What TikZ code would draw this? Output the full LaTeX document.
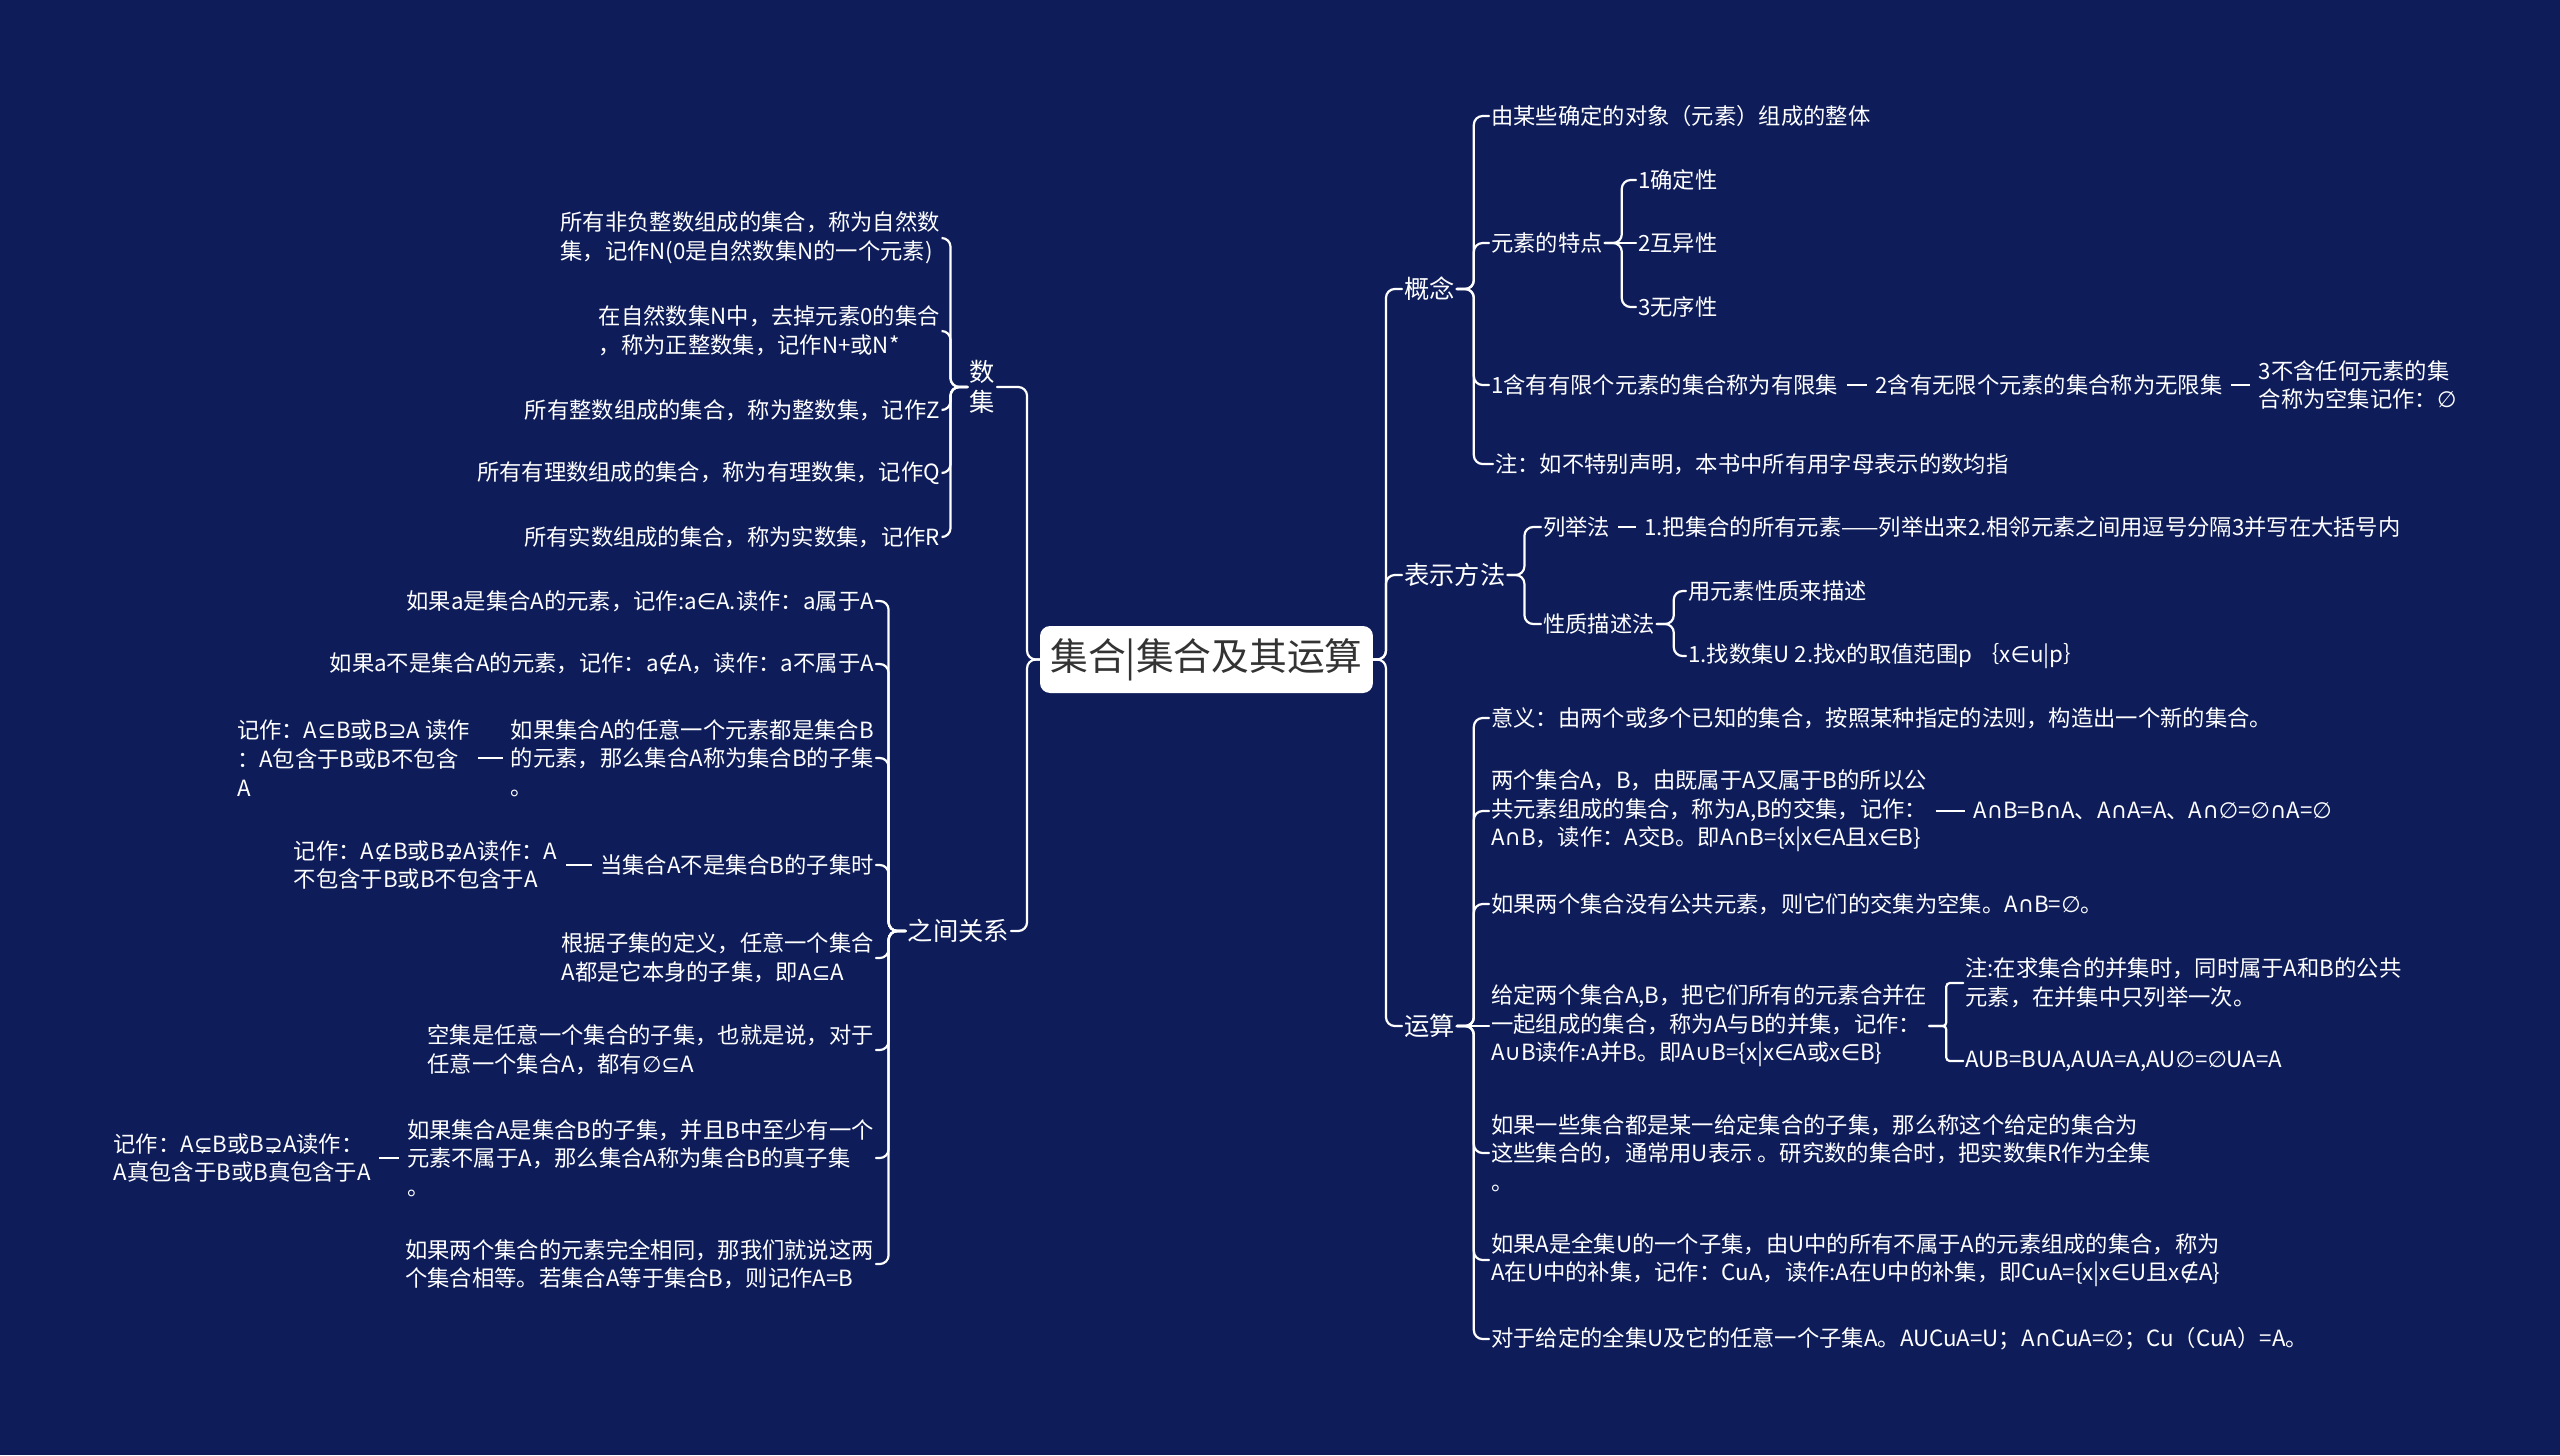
\documentclass[tikz,border=0pt]{standalone}
\usepackage{fontspec}
\setmainfont{Noto Sans CJK SC}
\newfontfamily\symfam{DejaVu Sans}
\newcommand\symb[1]{{\symfam #1}}
\usepackage{tikz}
\usetikzlibrary{positioning}
\definecolor{SetNavy}{RGB}{14,29,90}
\definecolor{SetInk}{RGB}{51,51,51}

\begin{document}
\begin{tikzpicture}[
x=0.02cm,
y=-0.02cm,
every node/.style={font=\fontsize{12.7}{16.3}\selectfont,text=white,inner sep=1.2pt,outer sep=0pt},
leaf/.style={align=left},
topic/.style={font=\fontsize{14.4}{16.8}\selectfont,align=center},
rootbox/.style={fill=white,text=SetInk,rounded corners=0.2cm,minimum width=6.66cm,minimum height=1.34cm,font=\fontsize{21.5}{24}\selectfont},
branch/.style={draw=white,line width=1.25pt,rounded corners=5pt,line cap=round},
chain/.style={draw=white,line width=1.6pt,shorten <=3.6pt,shorten >=3.6pt}
]

\fill[SetNavy] (0,0) rectangle (2560,1455);
\path[use as bounding box] (0,0) rectangle (2560,1455);

\node[rootbox] (root) at (1206.5,659.5) {集合|集合及其运算};

% right side
\node[topic,anchor=west] (gn) at (1402,289) {概念};
\node[topic,anchor=west] (bs) at (1402,575) {表示方法};
\node[topic,anchor=west] (ys) at (1402,1026) {运算};

\node[leaf,anchor=west] (g1) at (1489,116) {由某些确定的对象（元素）组成的整体};
\node[leaf,anchor=west] (g2) at (1489,243) {元素的特点};
\node[leaf,anchor=west] (g3) at (1489,385) {1含有有限个元素的集合称为有限集};
\node[leaf,right=0.66cm of g3] (g3b) {2含有无限个元素的集合称为无限集};
\node[leaf,right=0.64cm of g3b] (g3c) {3不含任何元素的集\\合称为空集记作：\symb{∅}};
\node[leaf,anchor=west] (g4) at (1493,464) {注：如不特别声明，本书中所有用字母表示的数均指};

\node[leaf,anchor=west] (g2a) at (1636,180) {1确定性};
\node[leaf,anchor=west] (g2b) at (1636,243) {2互异性};
\node[leaf,anchor=west] (g2c) at (1636,307) {3无序性};

\node[leaf,anchor=west] (b1) at (1541,527) {列举法};
\node[leaf,right=0.6cm of b1] (b1a) {1.把集合的所有元素——列举出来2.相邻元素之间用逗号分隔3并写在大括号内};
\node[leaf,anchor=west] (b2) at (1541,624) {性质描述法};
\node[leaf,anchor=west] (b2a) at (1686,591) {用元素性质来描述};
\node[leaf,anchor=west] (b2b) at (1686,656) {1.找数集U 2.找x的取值范围p ｛x\symb{∈}u|p｝};

\node[leaf,anchor=west] (y1) at (1489,718) {意义：由两个或多个已知的集合，按照某种指定的法则，构造出一个新的集合。};
\node[leaf,anchor=west] (y2) at (1489,811) {两个集合A，B，由既属于A又属于B的所以公\\共元素组成的集合，称为A,B的交集，记作：\\A\symb{∩}B，读作：A交B。即A\symb{∩}B=\{x|x\symb{∈}A且x\symb{∈}B\}};
\node[leaf,right=0.84cm of y2] (y2a) {A\symb{∩}B=B\symb{∩}A、A\symb{∩}A=A、A\symb{∩∅}=\symb{∅∩}A=\symb{∅}};
\node[leaf,anchor=west] (y3) at (1489,904) {如果两个集合没有公共元素，则它们的交集为空集。A\symb{∩}B=\symb{∅}。};
\node[leaf,anchor=west] (y4) at (1489,1026) {给定两个集合A,B，把它们所有的元素合并在\\一起组成的集合，称为A与B的并集，记作：\\A\symb{∪}B读作:A并B。即A\symb{∪}B=\{x|x\symb{∈}A或x\symb{∈}B\}};
\node[leaf,anchor=west] (y4a) at ([xshift=0.68cm,yshift=0.86cm]y4.east) {注:在求集合的并集时，同时属于A和B的公共\\元素，在并集中只列举一次。};
\node[leaf,anchor=west] (y4b) at ([xshift=0.68cm,yshift=-0.70cm]y4.east) {AUB=BUA,AUA=A,AU\symb{∅}=\symb{∅}UA=A};
\node[leaf,anchor=west] (y5) at (1489,1153) {如果一些集合都是某一给定集合的子集，那么称这个给定的集合为\\这些集合的，通常用U表示 。研究数的集合时，把实数集R作为全集\\。};
\node[leaf,anchor=west] (y6) at (1489,1260) {如果A是全集U的一个子集，由U中的所有不属于A的元素组成的集合，称为\\A在U中的补集，记作：CuA，读作:A在U中的补集，即CuA=\{x|x\symb{∈}U且x\symb{∉}A\}};
\node[leaf,anchor=west] (y7) at (1489,1339) {对于给定的全集U及它的任意一个子集A。AUCuA=U；A\symb{∩}CuA=\symb{∅}；Cu（CuA）=A。};

% left side
\node[topic,anchor=east] (sj) at (997,387) {数\\集};
\node[topic,anchor=east] (gx) at (1011,931) {之间关系};

\node[leaf,anchor=east] (s1) at (942,238) {所有非负整数组成的集合，称为自然数\\集，记作N(0是自然数集N的一个元素)};
\node[leaf,anchor=east] (s2) at (942,331) {在自然数集N中，去掉元素0的集合\\，称为正整数集，记作N+或N*};
\node[leaf,anchor=east] (s3) at (942,410) {所有整数组成的集合，称为整数集，记作Z};
\node[leaf,anchor=east] (s4) at (942,473) {所有有理数组成的集合，称为有理数集，记作Q};
\node[leaf,anchor=east] (s5) at (942,537) {所有实数组成的集合，称为实数集，记作R};

\node[leaf,anchor=east] (r1) at (876,601) {如果a是集合A的元素，记作:a\symb{∈}A.读作：a属于A};
\node[leaf,anchor=east] (r2) at (876,664) {如果a不是集合A的元素，记作：a\symb{∉}A，读作：a不属于A};
\node[leaf,anchor=east] (r3) at (876,758) {如果集合A的任意一个元素都是集合B\\的元素，那么集合A称为集合B的子集\\。};
\node[leaf,left=0.74cm of r3] (r3a) {记作：A\symb{⊆}B或B\symb{⊇}A 读作\\：A包含于B或B不包含\\A};
\node[leaf,anchor=east] (r4) at (876,865) {当集合A不是集合B的子集时};
\node[leaf,left=0.77cm of r4] (r4a) {记作：A\symb{⊈}B或B\symb{⊉}A读作：A\\不包含于B或B不包含于A};
\node[leaf,anchor=east] (r5) at (876,958) {根据子集的定义，任意一个集合\\A都是它本身的子集，即A\symb{⊆}A};
\node[leaf,anchor=east] (r6) at (876,1050) {空集是任意一个集合的子集，也就是说，对于\\任意一个集合A，都有\symb{∅⊆}A};
\node[leaf,anchor=east] (r7) at (876,1158) {如果集合A是集合B的子集，并且B中至少有一个\\元素不属于A，那么集合A称为集合B的真子集\\。};
\node[leaf,left=0.64cm of r7] (r7a) {记作：A\symb{⊊}B或B\symb{⊋}A读作：\\A真包含于B或B真包含于A};
\node[leaf,anchor=east] (r8) at (876,1264) {如果两个集合的元素完全相同，那我们就说这两\\个集合相等。若集合A等于集合B，则记作A=B};

% connectors
\foreach \c in {gn,bs,ys} \draw[branch] (root.east) -- ++(13,0) |- (\c.west);
\foreach \c in {sj,gx} \draw[branch] (root.west) -- ++(-13,0) |- (\c.east);

\foreach \c in {g1,g2,g3,g4} \draw[branch] (gn.east) -- ++(17,0) |- (\c.west);
\foreach \c in {g2a,g2c} \draw[branch] (g2.east) -- ++(17,0) |- (\c.west);
\draw[branch] (g2.east) -- (g2b.west);
\foreach \c in {b1,b2} \draw[branch] (bs.east) -- ++(17,0) |- (\c.west);
\foreach \c in {b2a,b2b} \draw[branch] (b2.east) -- ++(17,0) |- (\c.west);
\foreach \c in {y1,y2,y3,y5,y6,y7} \draw[branch] (ys.east) -- ++(17,0) |- (\c.west);
\draw[branch] (ys.east) -- (y4.west);
\foreach \c in {y4a,y4b} \draw[branch,rounded corners=2pt] (y4.east) -- ++(17,0) |- (\c.west);

\foreach \c in {s1,s2,s3,s4,s5} \draw[branch] (sj.west) -- ++(-17,0) |- (\c.east);
\foreach \c in {r1,r2,r3,r4,r5,r6,r7,r8} \draw[branch] (gx.west) -- ++(-17,0) |- (\c.east);

\draw[chain] (g3.east) -- (g3b.west);
\draw[chain] (g3b.east) -- (g3c.west);
\draw[chain] (b1.east) -- (b1a.west);
\draw[chain] (y2.east) -- (y2a.west);
\draw[chain] (r3.west) -- (r3a.east);
\draw[chain] (r4.west) -- (r4a.east);
\draw[chain] (r7.west) -- (r7a.east);

\end{tikzpicture}
\end{document}
